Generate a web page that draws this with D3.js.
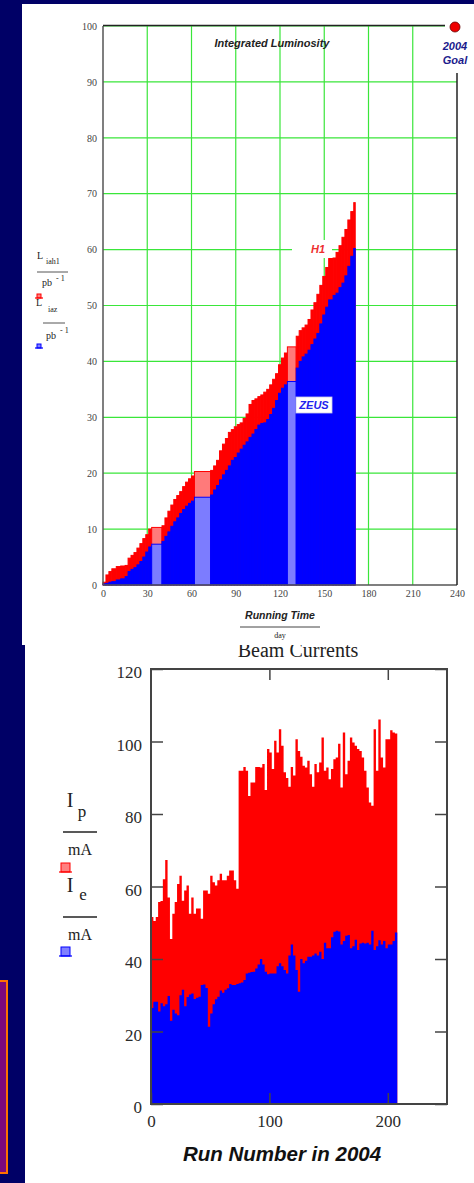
<!DOCTYPE html>
<html>
<head>
<meta charset="utf-8">
<script src="https://cdn.jsdelivr.net/npm/d3@7"></script>
<style>
  body { margin: 0; background: #000066; }
  svg { display: block; }
</style>
</head>
<body>
<script>
// ---- Integrated luminosity (top chart) ----
var lumiDays = [0,2,4,6,9,12,15,17,19,21,23,25,27,29,31,33,40,42,44,46,48,50,52,54,56,58,60,62,73,
  75,77,79,81,83,85,87,89,91,93,95,97,99,101,103,105,107,109,111,113,115,117,119,121,123,125,
  131,133,135,137,139,141,143,145,147,149,151,153,156,158,160,162,164,166,168,170];
var lumiEnd = 171;
var lumiH1 = [0.5,1.8,2.4,2.9,3.3,3.4,3.5,4.8,5.3,5.8,6.6,7.4,8.3,9.0,10.0,10.3,10.6,12.0,13.2,14.3,
  15.3,16.0,16.7,17.6,18.4,19.0,19.5,20.3,20.5,21.3,22.3,24.0,25.2,26.2,27.3,27.8,28.3,28.7,29.0,29.8,
  30.6,32.3,33.0,33.3,33.7,34.0,34.5,35.0,35.8,36.8,37.8,39.4,40.6,41.5,42.6,44.5,45.5,46.0,46.5,47.5,
  49.2,50.5,52.0,53.6,55.2,56.8,58.4,58.5,59.5,60.7,62.2,63.6,65.3,66.8,68.4];
var lumiZeus = [0.2,0.3,0.5,0.6,0.9,1.1,1.5,2.4,2.8,3.1,3.6,4.2,5.0,5.9,6.8,7.3,7.8,8.7,9.5,10.5,
  11.3,12.0,12.8,13.5,14.1,14.6,15.0,15.7,16.1,17.0,17.8,18.8,19.7,20.5,21.3,22.3,22.8,23.6,24.3,25.0,
  25.6,26.4,27.0,27.8,28.6,28.9,29.0,29.6,30.5,31.6,33.0,34.3,35.2,35.8,36.4,38.8,40.0,40.8,41.3,42.0,
  43.0,44.0,45.0,46.7,48.3,49.7,51.0,51.8,52.2,53.2,54.0,55.3,57.0,58.8,60.2];
var lumiTicksX = [0,30,60,90,120,150,180,210,240];
var lumiTicksY = [0,10,20,30,40,50,60,70,80,90,100];
var lumiGoal = 100;

// ---- Beam currents (bottom chart), one value per 2 runs ----
var runStart = d3.range(0, 208, 2);
var runEnd = 208;
var beamIp = [51.6,50.5,51.6,55.7,56.0,62.0,67.3,57.0,45.5,52.5,
  55.7,60.7,63.0,56.1,58.9,60.3,52.5,57.0,52.5,53.9,
  53.9,51.1,58.9,58.9,58.0,63.0,61.2,60.3,61.7,63.5,
  61.7,61.7,63.0,64.4,64.4,61.7,59.4,91.9,91.9,93.0,
  91.9,85.0,88.7,88.7,93.0,93.0,92.8,93.8,86.6,97.9,
  97.0,92.4,100.2,97.0,103.4,98.8,91.5,89.9,87.5,93.0,
  90.6,100.6,97.4,95.8,93.3,92.8,94.7,91.0,87.5,93.8,
  91.5,94.2,101.1,91.9,92.8,89.6,92.4,95.1,95.6,99.4,
  87.3,102.5,91.0,94.7,101.1,99.7,98.8,97.9,97.4,95.6,
  91.9,87.3,83.2,82.3,103.4,91.9,106.1,95.6,92.8,100.6,
  100.6,103.1,102.5,102.2];
var beamIe = [26.5,28.2,28.2,25.5,27.8,27.0,27.5,29.8,23.0,26.0,
  25.0,24.5,30.0,31.5,27.0,29.5,30.2,30.5,29.0,29.3,
  29.6,32.8,33.0,32.0,21.3,25.0,27.5,28.9,29.6,31.3,
  30.7,31.5,31.9,33.1,32.8,32.8,33.1,33.3,33.5,34.2,
  36.0,36.2,36.4,36.5,37.4,38.5,40.0,38.5,36.5,35.8,
  36.0,36.0,36.0,38.0,38.8,38.0,37.0,36.0,41.0,44.0,
  41.0,37.0,31.0,40.0,38.8,39.5,40.6,40.6,41.0,41.5,
  41.0,42.0,40.0,44.5,43.0,43.0,46.0,47.5,47.8,47.6,
  44.0,45.0,46.4,46.6,43.0,43.5,45.3,42.5,44.3,44.5,
  44.3,44.5,44.0,47.8,42.5,43.5,45.2,44.0,45.0,43.0,
  44.0,44.0,45.0,47.3];
var beamTicksX = [0,100,200];
var beamTicksY = [0,20,40,60,80,100,120];

var width = 474, height = 1183;
var svg = d3.select("body").append("svg")
    .attr("width", width)
    .attr("height", height);

var serif = "Liberation Serif, Times New Roman, serif";
var sans = "Liberation Sans, Arial, sans-serif";

function txt(g, x, y, s, size, anchor) {
  return g.append("text").attr("x", x).attr("y", y).attr("font-family", serif)
      .attr("font-size", size).attr("fill", "#222").attr("text-anchor", anchor || "start").text(s);
}
function marker(g, x, y, w, h, col, light) {
  g.append("rect").attr("x", x + 2).attr("y", y).attr("width", w - 4).attr("height", h)
      .attr("fill", light).attr("stroke", col).attr("stroke-width", 1);
  g.append("line").attr("x1", x).attr("x2", x + w).attr("y1", y + h).attr("y2", y + h)
      .attr("stroke", col).attr("stroke-width", 1.2);
}

// ================= bottom panel =================
svg.append("rect").attr("x", 25).attr("y", 640)
    .attr("width", width - 25).attr("height", height - 640).attr("fill", "#fff");

svg.append("rect").attr("x", -4).attr("y", 981).attr("width", 11).attr("height", 192)
    .attr("fill", "#7d087d").attr("stroke", "#ff7000").attr("stroke-width", 2);

var xB = d3.scaleLinear().domain([0, 250]).range([151, 447]);
var yB = d3.scaleLinear().domain([0, 120]).range([1104, 669]);

var gB = svg.append("g");
var stepArea = d3.area()
    .curve(d3.curveStepAfter)
    .x(function(d) { return xB(d[0]); })
    .y0(yB(0))
    .y1(function(d) { return yB(d[1]); });
function runPoints(vals) {
  var pts = runStart.map(function(r, i) { return [r, vals[i]]; });
  pts.push([runEnd, vals[vals.length - 1]]);
  return pts;
}
gB.append("path").datum(runPoints(beamIp)).attr("d", stepArea).attr("fill", "#ff0000");
gB.append("path").datum(runPoints(beamIe)).attr("d", stepArea).attr("fill", "#0000ff");

function styleAxis(g, size) {
  g.select(".domain").remove();
  g.selectAll("line").attr("stroke", "#444").attr("stroke-width", 1.5);
  g.selectAll("text").attr("font-family", serif)
      .attr("font-size", size).attr("fill", "#2a2a2a");
}
var axL = gB.append("g").attr("transform", "translate(151,0)")
    .call(d3.axisLeft(yB).tickValues(beamTicksY).tickSize(-12).tickPadding(9));
styleAxis(axL, 17);
axL.selectAll("text").attr("dy", "0.5em");
var axR = gB.append("g").attr("transform", "translate(447,0)")
    .call(d3.axisRight(yB).tickValues(beamTicksY).tickSize(-12).tickFormat(""));
styleAxis(axR, 17);
var axT = gB.append("g").attr("transform", "translate(0,669)")
    .call(d3.axisTop(xB).tickValues([100, 200]).tickSize(-11).tickFormat(""));
styleAxis(axT, 17);
var axBt = gB.append("g").attr("transform", "translate(0,1104)")
    .call(d3.axisBottom(xB).tickValues(beamTicksX).tickSize(-11).tickPadding(11));
styleAxis(axBt, 17);
gB.append("rect").attr("x", 151).attr("y", 669).attr("width", 296).attr("height", 435)
    .attr("fill", "none").attr("stroke", "#444").attr("stroke-width", 2);

gB.append("text").attr("x", 282).attr("y", 1161).attr("text-anchor", "middle")
    .attr("font-family", sans).attr("font-style", "italic").attr("font-weight", "bold")
    .attr("font-size", 20.5).attr("fill", "#111").text("Run Number in 2004");
gB.append("text").attr("x", 298).attr("y", 657).attr("text-anchor", "middle")
    .attr("font-family", serif)
    .attr("font-size", 20).attr("fill", "#222").text("Beam Currents");

// y label (fractions) of bottom chart
txt(gB, 70, 807, "I", 20, "middle");
txt(gB, 82, 817, "p", 17, "middle");
gB.append("line").attr("x1", 63).attr("x2", 97).attr("y1", 832).attr("y2", 832).attr("stroke", "#222").attr("stroke-width", 1.3);
txt(gB, 80, 855, "mA", 16, "middle");
txt(gB, 70, 892, "I", 20, "middle");
txt(gB, 83, 900, "e", 17, "middle");
gB.append("line").attr("x1", 63).attr("x2", 97).attr("y1", 917).attr("y2", 917).attr("stroke", "#222").attr("stroke-width", 1.3);
txt(gB, 80, 940, "mA", 16, "middle");
marker(gB, 59, 863, 13, 9, "#ff0000", "#ff8080");
marker(gB, 59, 947, 13, 9, "#0000ff", "#8080ff");

// ================= top panel =================
svg.append("rect").attr("x", 22).attr("y", 4)
    .attr("width", width - 22).attr("height", 641).attr("fill", "#fff");

var xL = d3.scaleLinear().domain([0, 240]).range([103, 457]);
var yL = d3.scaleLinear().domain([0, 100]).range([585, 26]);
var gT = svg.append("g");

// grid
gT.selectAll("line.gx").data(lumiTicksX.slice(1, -1)).enter().append("line")
    .attr("x1", function(d) { return xL(d); }).attr("x2", function(d) { return xL(d); })
    .attr("y1", yL(100)).attr("y2", yL(0))
    .attr("stroke", "#3ae63a").attr("stroke-width", 1.2);
gT.selectAll("line.gy").data(lumiTicksY.slice(1)).enter().append("line")
    .attr("x1", xL(0)).attr("x2", function(d) { return d === 100 ? 445 : xL(240); })
    .attr("y1", function(d) { return yL(d); }).attr("y2", function(d) { return yL(d); })
    .attr("stroke", "#3ae63a").attr("stroke-width", 1.2);

// bars spanning a gap of several days show the lighter fill
function lumiBars(data, light, solid) {
  gT.append("g").selectAll("rect").data(data).enter().append("rect")
      .attr("x", function(d, i) { return xL(lumiDays[i]); })
      .attr("width", function(d, i) {
        var e = i < lumiDays.length - 1 ? lumiDays[i + 1] : lumiEnd;
        return xL(e) - xL(lumiDays[i]);
      })
      .attr("y", function(d) { return yL(d); })
      .attr("height", function(d) { return yL(0) - yL(d); })
      .attr("fill", function(d, i) {
        var e = i < lumiDays.length - 1 ? lumiDays[i + 1] : lumiEnd;
        return (e - lumiDays[i]) > 3 ? light : solid;
      })
      .attr("stroke", solid).attr("stroke-width", 1);
}
lumiBars(lumiH1, "#ff7a7a", "#ff0000");
lumiBars(lumiZeus, "#7c7cff", "#0000ff");

// frame
var frame = gT.append("g").attr("stroke", "#555").attr("stroke-width", 1.5);
frame.append("line").attr("x1", xL(0)).attr("x2", xL(0)).attr("y1", yL(100)).attr("y2", yL(0));
frame.append("line").attr("x1", xL(0)).attr("x2", xL(240)).attr("y1", yL(0)).attr("y2", yL(0));
frame.append("line").attr("x1", xL(240)).attr("x2", xL(240)).attr("y1", 73).attr("y2", yL(0)).attr("stroke", "#222");
frame.append("line").attr("x1", xL(0)).attr("x2", 445).attr("y1", yL(100) - 0.5).attr("y2", yL(100) - 0.5).attr("stroke", "#222");

// tick labels
var tL = gT.append("g").attr("transform", "translate(103,0)")
    .call(d3.axisLeft(yL).tickValues(lumiTicksY).tickSize(0).tickPadding(6));
tL.select(".domain").remove();
tL.selectAll("text").attr("font-family", serif).attr("font-size", 10).attr("fill", "#444");
var tB = gT.append("g").attr("transform", "translate(0,585)")
    .call(d3.axisBottom(xL).tickValues(lumiTicksX).tickSize(0).tickPadding(5));
tB.select(".domain").remove();
tB.selectAll("text").attr("font-family", serif).attr("font-size", 10).attr("fill", "#444");

gT.append("text").attr("x", 272).attr("y", 47).attr("text-anchor", "middle")
    .attr("font-family", sans).attr("font-weight", "bold").attr("font-style", "italic")
    .attr("font-size", 11).attr("fill", "#222").text("Integrated Luminosity");

// goal
gT.append("circle").attr("cx", 455).attr("cy", yL(lumiGoal) + 1).attr("r", 5)
    .attr("fill", "#ee0000").attr("stroke", "#660000").attr("stroke-width", 0.8);
gT.append("text").attr("x", 455).attr("y", 50).attr("text-anchor", "middle")
    .attr("font-family", sans).attr("font-weight", "bold").attr("font-style", "italic")
    .attr("font-size", 11).attr("fill", "#1a1a8c").text("2004");
gT.append("text").attr("x", 455).attr("y", 64).attr("text-anchor", "middle")
    .attr("font-family", sans).attr("font-weight", "bold").attr("font-style", "italic")
    .attr("font-size", 11).attr("fill", "#1a1a8c").text("Goal");

// series labels
gT.append("rect").attr("x", 292).attr("y", 240).attr("width", 40).attr("height", 18).attr("fill", "#fff");
gT.append("text").attr("x", 318).attr("y", 253).attr("text-anchor", "middle")
    .attr("font-family", sans).attr("font-weight", "bold").attr("font-style", "italic")
    .attr("font-size", 11).attr("fill", "#ee3030").text("H1");
gT.append("rect").attr("x", 296).attr("y", 397).attr("width", 36).attr("height", 16)
    .attr("fill", "#fff").attr("stroke", "#c8c8e8").attr("stroke-width", 0.8);
gT.append("text").attr("x", 314).attr("y", 409).attr("text-anchor", "middle")
    .attr("font-family", sans).attr("font-weight", "bold").attr("font-style", "italic")
    .attr("font-size", 11).attr("fill", "#2222ee").text("ZEUS");

// x title
gT.append("text").attr("x", 280).attr("y", 619).attr("text-anchor", "middle")
    .attr("font-family", sans).attr("font-weight", "bold").attr("font-style", "italic")
    .attr("font-size", 10.5).attr("fill", "#222").text("Running Time");
gT.append("line").attr("x1", 240).attr("x2", 320).attr("y1", 627).attr("y2", 627)
    .attr("stroke", "#444").attr("stroke-width", 1);
txt(gT, 280, 638, "day", 8, "middle");

// y title (fractions)
txt(gT, 37, 259, "L", 10);
txt(gT, 46, 264, "iah1", 8);
gT.append("line").attr("x1", 37).attr("x2", 68).attr("y1", 272).attr("y2", 272).attr("stroke", "#555");
txt(gT, 42, 286, "pb", 10);
txt(gT, 56, 281, "- 1", 8);
marker(gT, 35, 294, 8, 4, "#ff0000", "#ff8080");
txt(gT, 36, 306, "L", 10);
txt(gT, 48, 312, "iaz", 8);
gT.append("line").attr("x1", 43).attr("x2", 65).attr("y1", 323).attr("y2", 323).attr("stroke", "#555");
txt(gT, 46, 339, "pb", 10);
txt(gT, 60, 333, "- 1", 8);
marker(gT, 35, 344, 8, 4, "#0000ff", "#8080ff");
</script>
</body>
</html>
